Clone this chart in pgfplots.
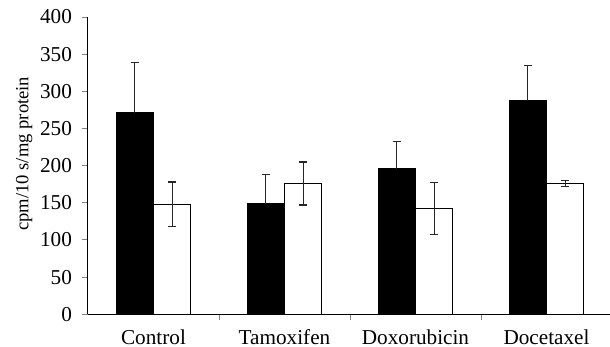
\documentclass[border=0pt]{standalone}
\usepackage{pgfplots}
\pgfplotsset{compat=1.18}
\usepackage{fontspec}
\setmainfont{Liberation Serif}
\begin{document}
\begin{tikzpicture}
\begin{axis}[
  at={(0,0)}, anchor=south west,
  scale only axis,
  width=262pt, height=148.65pt,
  xmin=-0.5, xmax=3.5,
  ymin=0, ymax=400,
  axis x line=bottom, axis y line=left,
  axis line style={-, line width=0.5pt},
  xtick={0,1,2,3},
  xticklabels={Control,Tamoxifen,Doxorubicin,Docetaxel},
  major x tick style={draw=none},
  minor xtick={0.5,1.5,2.5,3.5},
  minor x tick style={line width=0.5pt},
  minor tick length=3pt,
  ytick={0,50,...,400},
  major tick length=3pt,
  tick align=outside,
  y tick style={line width=0.5pt},
  /pgf/number format/assume math mode=true,
  tick label style={font=\fontsize{10.6pt}{12pt}\selectfont},
  xticklabel style={yshift=-1pt},
  yticklabel style={xshift=-1.5pt},
  ylabel={cpm/10 s/mg protein},
  ylabel style={font=\fontsize{9.3pt}{11pt}\selectfont, at={(axis description cs:-0.122,0.54)}, anchor=center},
  bar width=0.285,
  ybar=0pt,
  error bars/error bar style={line width=0.6pt, black!85},
  error bars/error mark options={line width=0.6pt, black!85, mark size=1.9pt, rotate=90},
]
\addplot[fill=black, draw=black, line width=0.5pt, bar shift=-0.143,
  error bars/.cd, y dir=plus, y explicit]
  coordinates {(0,271) +- (0,68) (1,149) +- (0,39) (2,196) +- (0,36) (3,287) +- (0,48)};
\addplot[fill=white, draw=black, line width=0.5pt, bar shift=0.143,
  error bars/.cd, y dir=both, y explicit]
  coordinates {(0,148) +- (0,30) (1,176) +- (0,29) (2,142) +- (0,35) (3,176) +- (0,4.5)};
\end{axis}
\pgfresetboundingbox
\path[use as bounding box] (-44pt,-16.35pt) rectangle (261pt,157.15pt);
\end{tikzpicture}
\end{document}
